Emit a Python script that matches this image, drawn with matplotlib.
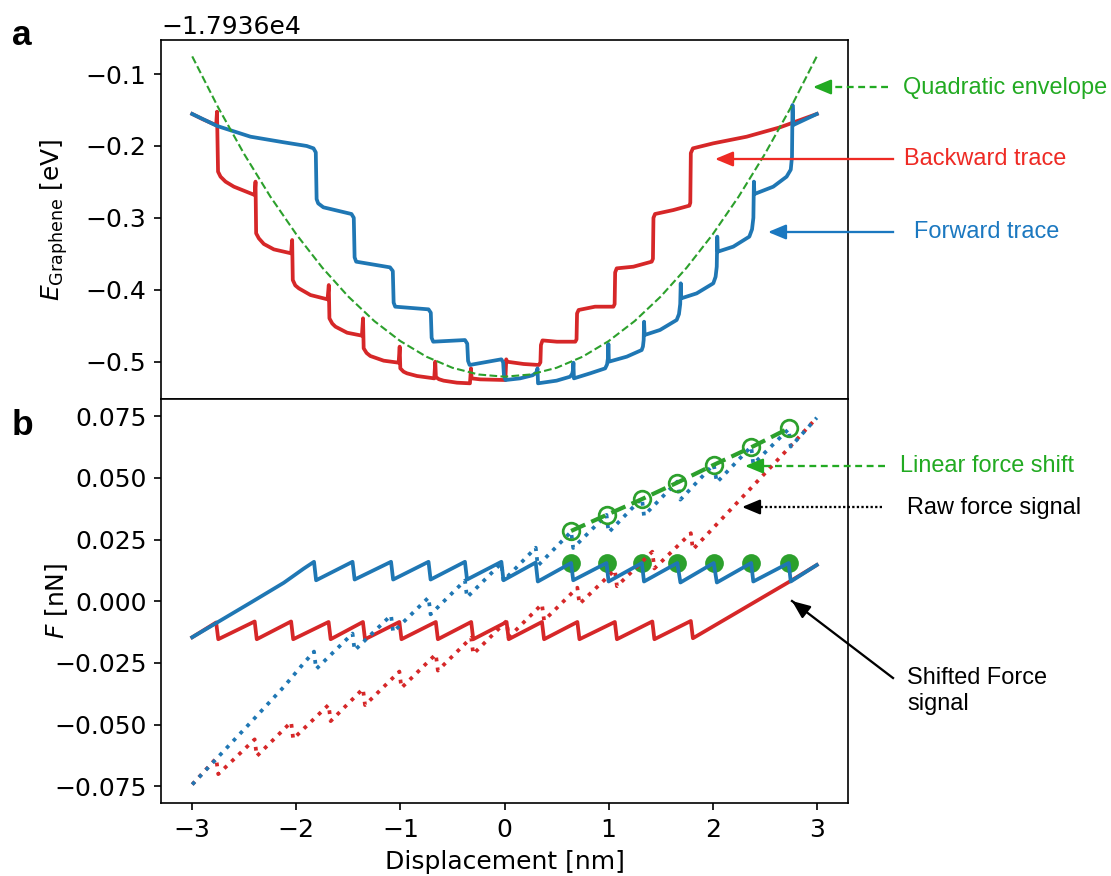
import numpy as np
import matplotlib
matplotlib.use("Agg")
import matplotlib.pyplot as plt

plt.rcParams["font.size"] = 12

# ---- panel a: graphene energy (values relative to the -1.7936e4 eV offset)
E0 = -17936.0

fwd_E_x = [-3.00, -2.76, -2.44, -2.12, -1.90, -1.835, -1.813, -1.805, -1.790,
           -1.74, -1.47, -1.448, -1.440, -1.425,
           -1.10, -1.073, -1.065, -1.050,
           -0.73, -0.708, -0.700, -0.685,
           -0.38, -0.358, -0.350, -0.335,
           -0.03, -0.013, -0.005, 0.010,
           0.15, 0.27, 0.300, 0.312, 0.317, 0.322,
           0.50, 0.63, 0.650, 0.658, 0.662, 0.667,
           0.823, 0.967, 0.985, 0.994, 0.998, 1.003,
           1.175, 1.318, 1.330, 1.337, 1.341, 1.346,
           1.494, 1.654, 1.676, 1.688, 1.693, 1.698,
           1.846, 2.006, 2.028, 2.039, 2.044, 2.049,
           2.198, 2.352, 2.378, 2.391, 2.396, 2.401,
           2.582, 2.710, 2.750, 2.762, 2.767, 2.775, 3.00]
fwd_E = [-0.1556, -0.1723, -0.1872, -0.1950, -0.2001, -0.2034, -0.2090, -0.2740, -0.2799,
         -0.2854, -0.2947, -0.3000, -0.3550, -0.3610,
         -0.3689, -0.3740, -0.4180, -0.4236,
         -0.4273, -0.4320, -0.4670, -0.4723,
         -0.4700, -0.4750, -0.4990, -0.5047,
         -0.4968, -0.5010, -0.5200, -0.5256,
         -0.5233, -0.5190, -0.5160, -0.5130, -0.5094, -0.5302,
         -0.5265, -0.5210, -0.5170, -0.5120, -0.5015, -0.5233,
         -0.5163, -0.5094, -0.5040, -0.4950, -0.4755, -0.5001,
         -0.4931, -0.4839, -0.4790, -0.4700, -0.4445, -0.4630,
         -0.4560, -0.4421, -0.4340, -0.4200, -0.3911, -0.4120,
         -0.4051, -0.3911, -0.3820, -0.3680, -0.3262, -0.3471,
         -0.3401, -0.3262, -0.3160, -0.3000, -0.2497, -0.2669,
         -0.2567, -0.2428, -0.2330, -0.2150, -0.1431, -0.1709, -0.1556]

bwd_E_x = [-3.00, -2.90, -2.770, -2.762, -2.752, -2.728, -2.68, -2.60, -2.44, -2.400,
           -2.392, -2.386, -2.36, -2.312, -2.216, -2.05,
           -2.040, -2.034, -2.010, -1.976, -1.864, -1.700,
           -1.688, -1.682, -1.655, -1.624, -1.512, -1.370,
           -1.359, -1.353, -1.325, -1.289, -1.161, -1.017,
           -1.007, -1.001, -0.970, -0.937, -0.841, -0.675,
           -0.665, -0.659, -0.630, -0.585, -0.457, -0.332,
           -0.322, -0.316, -0.233, 0.008,
           0.017, 0.023, 0.183, 0.330,
           0.345, 0.350, 0.365, 0.503, 0.680,
           0.692, 0.697, 0.712, 0.870, 1.046,
           1.058, 1.063, 1.078, 1.238, 1.414,
           1.426, 1.431, 1.446, 1.622, 1.776,
           1.785, 1.790, 1.810, 2.006, 2.326, 2.646, 3.00]
bwd_E = [-0.1556, -0.1628, -0.1712, -0.1524, -0.2358, -0.2428, -0.2497, -0.2567, -0.2660, -0.2683,
         -0.2497, -0.3216, -0.3286, -0.3364, -0.3439, -0.3494,
         -0.3309, -0.3865, -0.3940, -0.3981, -0.4074, -0.4134,
         -0.3935, -0.4398, -0.4470, -0.4514, -0.4598, -0.4639,
         -0.4398, -0.4815, -0.4880, -0.4922, -0.4987, -0.5015,
         -0.4792, -0.5094, -0.5140, -0.5163, -0.5200, -0.5233,
         -0.5001, -0.5215, -0.5245, -0.5265, -0.5293, -0.5302,
         -0.5094, -0.5233, -0.5247, -0.5256,
         -0.4968, -0.5001, -0.5033, -0.5047,
         -0.5010, -0.4770, -0.4705, -0.4723, -0.4723,
         -0.4690, -0.4330, -0.4282, -0.4236, -0.4236,
         -0.4200, -0.3760, -0.3703, -0.3680, -0.3610,
         -0.3570, -0.3000, -0.2947, -0.2892, -0.2831,
         -0.2790, -0.2100, -0.2034, -0.1964, -0.1872, -0.1742, -0.1556]

env_x = [-3.00, -2.75, -2.50, -2.25, -2.00, -1.75, -1.50, -1.25, -1.00, -0.75, -0.50, -0.25, 0.00,
         0.25, 0.50, 0.75, 1.00, 1.25, 1.50, 1.75, 2.00, 2.25, 2.50, 2.75, 3.00]
env_E = [-0.0755, -0.1467, -0.2116, -0.2704, -0.3230, -0.3694, -0.4096, -0.4437, -0.4715,
         -0.4932, -0.5086, -0.5179, -0.5210, -0.5179, -0.5086, -0.4932, -0.4715, -0.4437,
         -0.4096, -0.3694, -0.3230, -0.2704, -0.2116, -0.1467, -0.0755]

# ---- panel b: force
fwd_F_x = [-3.00, -2.44, -2.12, -1.93, -1.83, -1.81, -1.46, -1.44, -1.09, -1.07, -0.73, -0.71,
           -0.38, -0.36, -0.03, -0.01, 0.30, 0.32, 0.64, 0.66, 0.98, 1.00, 1.32, 1.34,
           1.66, 1.69, 2.01, 2.04, 2.37, 2.39, 2.73, 2.75, 3.00]
fwd_F_shift = [-0.0146, -0.0006, 0.0075, 0.0132, 0.0160, 0.0085, 0.0160, 0.0088, 0.0160, 0.0088,
               0.0160, 0.0088, 0.0160, 0.0088, 0.0160, 0.0085, 0.0157, 0.0080, 0.0155, 0.0085,
               0.0155, 0.0080, 0.0155, 0.0080, 0.0155, 0.0076, 0.0155, 0.0076, 0.0155, 0.0080,
               0.0155, 0.0080, 0.0147]
fwd_F_raw = [-0.0743, -0.0492, -0.0347, -0.0252, -0.0204, -0.0275, -0.0131, -0.0199, -0.0057,
             -0.0125, 0.0015, -0.0053, 0.0084, 0.0016, 0.0154, 0.0083, 0.0217, 0.0144, 0.0282,
             0.0216, 0.0350, 0.0279, 0.0418, 0.0347, 0.0485, 0.0412, 0.0555, 0.0482, 0.0627,
             0.0556, 0.0698, 0.0627, 0.0744]

bwd_F_x = [-3.00, -2.77, -2.75, -2.40, -2.38, -2.05, -2.03, -1.69, -1.67, -1.36, -1.34,
           -1.01, -0.99, -0.66, -0.64, -0.32, -0.30, 0.02, 0.04, 0.36, 0.38, 0.70, 0.72,
           1.06, 1.08, 1.42, 1.44, 1.79, 1.81, 2.74, 3.00]
bwd_F_shift = [-0.0146, -0.0086, -0.0154, -0.0082, -0.0154, -0.0082, -0.0154, -0.0084, -0.0154,
               -0.0084, -0.0154, -0.0084, -0.0154, -0.0084, -0.0154, -0.0084, -0.0154, -0.0084,
               -0.0154, -0.0084, -0.0154, -0.0084, -0.0154, -0.0084, -0.0154, -0.0082, -0.0154,
               -0.0080, -0.0150, 0.0080, 0.0147]
bwd_F_raw = [-0.0743, -0.0637, -0.0701, -0.0560, -0.0628, -0.0490, -0.0558, -0.0420, -0.0486,
             -0.0355, -0.0421, -0.0285, -0.0351, -0.0215, -0.0281, -0.0148, -0.0214, -0.0080,
             -0.0146, -0.0012, -0.0078, 0.0055, -0.0011, 0.0127, 0.0061, 0.0201, 0.0133,
             0.0276, 0.0210, 0.0625, 0.0744]

shift_x = [0.64, 0.98, 1.32, 1.66, 2.01, 2.37, 2.73]
shift_open = [0.0285, 0.0350, 0.0414, 0.0481, 0.0553, 0.0624, 0.0701]
shift_fill = [0.0155, 0.0155, 0.0155, 0.0155, 0.0155, 0.0155, 0.0155]

blue = "#1f77b4"
red = "#d62728"
green = "#2ca02c"

W, H = 1111, 876
fig = plt.figure(figsize=(W / 150, H / 150), dpi=150)


def fpos(x, y):
    # image pixel -> figure fraction
    return (x / W, 1 - y / H)


left, right = 161, 848
ax1 = fig.add_axes([left / W, 1 - 399 / H, (right - left) / W, (399 - 40) / H])
ax2 = fig.add_axes([left / W, 1 - 803 / H, (right - left) / W, (803 - 399) / H], sharex=ax1)

ax1.plot(bwd_E_x, E0 + np.array(bwd_E), color=red, lw=1.8)
ax1.plot(fwd_E_x, E0 + np.array(fwd_E), color=blue, lw=1.8)
ax1.plot(env_x, E0 + np.array(env_E), "--", color=green, lw=1.0)
ax1.set_ylim(E0 - 0.552, E0 - 0.0527)
ax1.set_yticks(E0 + np.array([-0.5, -0.4, -0.3, -0.2, -0.1]))
ax1.set_ylabel(r"$E_{\mathrm{Graphene}}$ [eV]")
ax1.tick_params(labelbottom=False)

ax2.plot(shift_x, shift_fill, "o", color=green, ms=8, zorder=1)
ax2.plot(bwd_F_x, bwd_F_shift, color=red, lw=1.8, zorder=2)
ax2.plot(bwd_F_x, bwd_F_raw, ":", color=red, lw=1.8, zorder=2)
ax2.plot(fwd_F_x, fwd_F_shift, color=blue, lw=1.8, zorder=3)
ax2.plot(fwd_F_x, fwd_F_raw, ":", color=blue, lw=1.8, zorder=3)
ax2.plot(shift_x, shift_open, "--o", color=green, lw=2.0, ms=8, mfc="none", mew=1.3, zorder=4)
ax2.set_xlim(-3.3, 3.3)
ax2.set_ylim(-0.0818, 0.082)
ax2.set_yticks([-0.075, -0.05, -0.025, 0.0, 0.025, 0.05, 0.075])
ax2.set_ylabel(r"$F$ [nN]")
ax2.set_xlabel("Displacement [nm]")

# both y labels sit at the same x, as in the original
ax1.yaxis.set_label_coords(-0.1325, 0.5)
ax2.yaxis.set_label_coords(-0.1325, 0.5)

# panel letters
lab_font = ["Liberation Sans", "DejaVu Sans"]
fig.text(*fpos(12, 45), "a", fontsize=17, fontweight="bold", family=lab_font, va="baseline")
fig.text(*fpos(12, 435), "b", fontsize=17, fontweight="bold", family=lab_font, va="baseline")

# annotations on the right
txt_green = "#22aa22"
txt_red = "#ee2a24"
txt_blue = "#1b78c0"


def arrow(tail, head, color, ls="-"):
    fig.add_artist(matplotlib.lines.Line2D(
        [tail[0] / W, (head[0] + 6) / W if tail[1] == head[1] else head[0] / W],
        [1 - tail[1] / H, 1 - head[1] / H], color=color, lw=1.1, ls=ls,
        transform=fig.transFigure))
    ax2.annotate("", xy=fpos(*head), xytext=fpos(head[0] + 14, head[1]) if tail[1] == head[1]
                 else fpos(head[0] + 12, head[1] + 9.2),
                 xycoords="figure fraction", textcoords="figure fraction",
                 arrowprops=dict(arrowstyle="-|>,head_length=0.6,head_width=0.25",
                                 color=color, lw=1.1, shrinkA=0, shrinkB=0,
                                 mutation_scale=12),
                 annotation_clip=False)


arrow((888, 87), (813, 87), txt_green, (0, (3, 2)))
arrow((893, 159), (715, 159), txt_red)
arrow((893, 232), (768, 232), txt_blue)
arrow((885, 466), (745, 466), txt_green, (0, (3, 2)))
arrow((882, 507), (742, 507), "black", (0, (1, 1)))
arrow((893, 678), (792, 601), "black")

tfont = ["Liberation Sans", "DejaVu Sans"]
fig.text(*fpos(903, 88), "Quadratic envelope", color=txt_green, fontsize=11.3, family=tfont, va="center")
fig.text(*fpos(904, 159), "Backward trace", color=txt_red, fontsize=11.3, family=tfont, va="center")
fig.text(*fpos(914, 232), "Forward trace", color=txt_blue, fontsize=11.3, family=tfont, va="center")
fig.text(*fpos(900, 466), "Linear force shift", color=txt_green, fontsize=11.3, family=tfont, va="center")
fig.text(*fpos(907, 508), "Raw force signal", color="black", fontsize=11.3, family=tfont, va="center")
fig.text(*fpos(907, 691), "Shifted Force\nsignal", color="black", fontsize=11.3, family=tfont,
         va="center", linespacing=1.25)

fig.savefig("out.png", dpi=150)
